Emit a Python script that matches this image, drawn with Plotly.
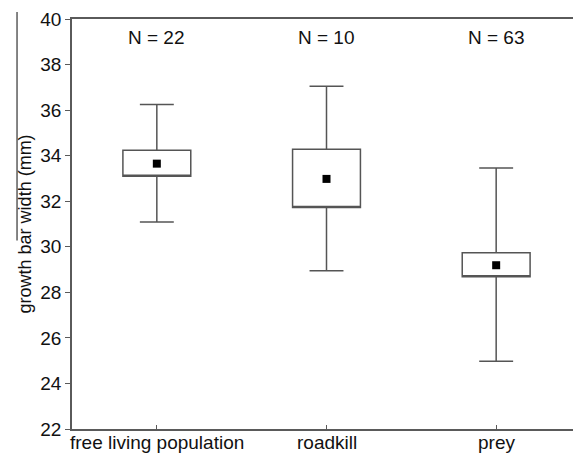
import plotly.graph_objects as go

groups = ["free living population", "roadkill", "prey"]
n_labels = ["N = 22", "N = 10", "N = 63"]
means = [33.65, 32.98, 29.19]
box_low = [33.10, 31.72, 28.68]
box_high = [34.24, 34.28, 29.74]
whisker_low = [31.09, 28.95, 24.97]
whisker_high = [36.25, 37.05, 33.46]
y_ticks = [22, 24, 26, 28, 30, 32, 34, 36, 38, 40]

FONT = "Liberation Sans, Arial, sans-serif"
AXIS = "#5a5a5a"
TXT = "#111111"

fig = go.Figure()
fig.add_trace(go.Box(
    x=groups, q1=box_low, median=box_low, q3=box_high,
    lowerfence=whisker_low, upperfence=whisker_high,
    width=0.4, whiskerwidth=0.5, fillcolor="white",
    line=dict(color="#555555", width=1.5), boxpoints=False,
    hoverinfo="skip", showlegend=False,
))
fig.add_trace(go.Scatter(
    x=groups, y=means, mode="markers",
    marker=dict(symbol="square", size=8, color="black"),
    showlegend=False,
))
# invisible trace on right axis for inward right ticks
fig.add_trace(go.Scatter(x=groups, y=means, yaxis="y2", mode="markers",
                         marker=dict(opacity=0), showlegend=False, hoverinfo="skip"))

for g, t in zip(groups, n_labels):
    fig.add_annotation(x=g, y=0.955, yref="paper", text=t, showarrow=False,
                       font=dict(size=19, color=TXT, family=FONT),
                       yanchor="middle")
# category labels placed as annotations so they sit close under the axis
for g in groups:
    fig.add_annotation(x=g, y=-0.034, yref="paper", text=g, showarrow=False,
                       font=dict(size=19, color=TXT, family=FONT),
                       yanchor="middle")
# y-axis title
fig.add_annotation(x=-0.0915, xref="paper", y=0.5, yref="paper",
                   text="growth bar width (mm)", textangle=-90, showarrow=False,
                   font=dict(size=18, color=TXT, family=FONT),
                   xanchor="center", yanchor="middle")

# page body has an 8px margin, so the figure is sized/placed to compensate
fig.update_layout(
    width=573, height=447,
    margin=dict(l=64, r=0, t=11, b=26, autoexpand=False),
    paper_bgcolor="white", plot_bgcolor="white",
    font=dict(family=FONT, size=19, color=TXT),
    xaxis=dict(
        type="category", range=[-0.5, 2.5], automargin=False,
        showline=True, linecolor=AXIS, linewidth=1.5, mirror=True,
        ticks="inside", ticklen=4, tickcolor=AXIS, showgrid=False,
        showticklabels=False, zeroline=False,
    ),
    yaxis=dict(
        range=[22, 40], tickvals=y_ticks, automargin=False,
        showline=True, linecolor=AXIS, linewidth=1.5, mirror=False,
        ticks="outside", ticklen=5, tickcolor=AXIS, showgrid=False,
        tickfont=dict(size=19, family=FONT, color=TXT), zeroline=False,
    ),
    yaxis2=dict(
        overlaying="y", side="right", range=[22, 40], tickvals=y_ticks,
        showticklabels=False, ticks="inside", ticklen=3, tickcolor=AXIS,
        showline=False, showgrid=False, zeroline=False, automargin=False,
    ),
    shapes=[dict(type="line", xref="paper", yref="paper",
                 x0=-0.108, x1=-0.108, y0=0.46, y1=1.017,
                 line=dict(color="#333333", width=1.2))],
)

fig.write_html("out.html")
